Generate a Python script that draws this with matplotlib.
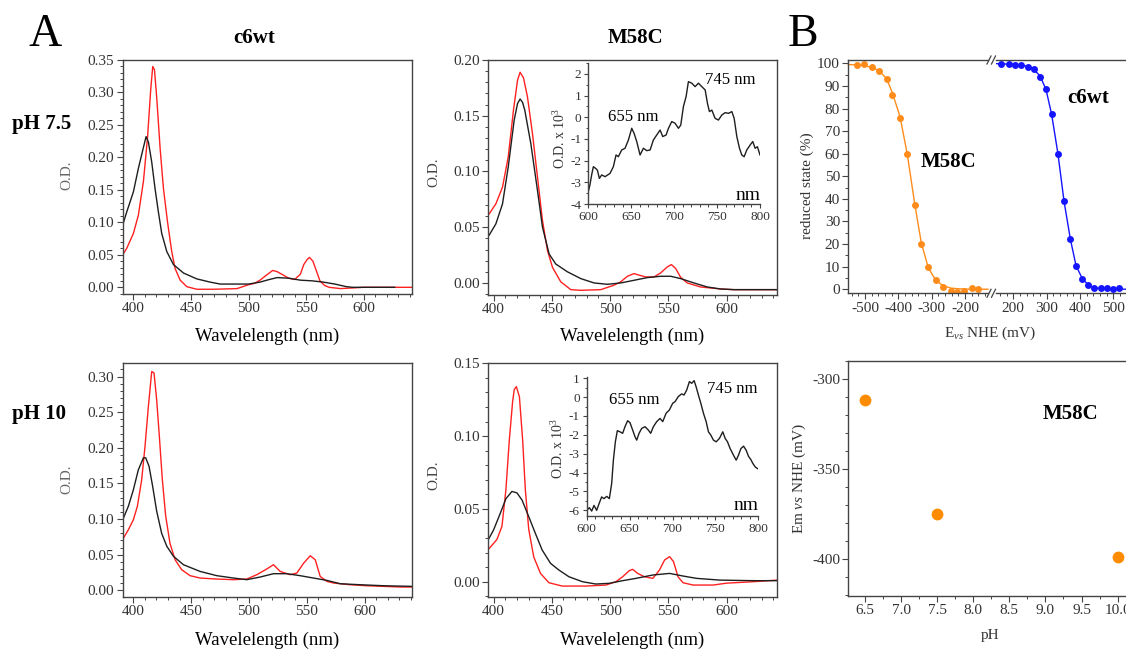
import matplotlib.pyplot as plt
from matplotlib.ticker import MultipleLocator
from matplotlib.lines import Line2D

plt.rcParams['font.family'] = ['Liberation Serif', 'DejaVu Serif']
plt.rcParams['mathtext.fontset'] = 'custom'
plt.rcParams['mathtext.rm'] = 'Liberation Serif'
plt.rcParams['mathtext.it'] = 'Liberation Serif:italic'
plt.rcParams['mathtext.bf'] = 'Liberation Serif:bold'
plt.rcParams['axes.unicode_minus'] = False

# ---- A: c6wt, pH 7.5 (reduced = red, oxidised = black)
wl_wt75_red = [390.7, 394.2, 400, 404.3, 408.7, 412.2, 415.1, 416.8, 418.3, 420.3, 423.2, 426.1,
               429.6, 433.3, 436.2, 440.6, 446.4, 455, 470, 490, 500, 505, 510, 515, 521, 525,
               530, 535, 540, 545, 548, 551, 553, 556, 559, 562, 566, 570, 580, 590, 600, 642]
od_wt75_red = [0.050, 0.060, 0.083, 0.111, 0.163, 0.229, 0.306, 0.340, 0.335, 0.291, 0.214, 0.152,
               0.101, 0.055, 0.029, 0.011, 0.001, -0.003, -0.003, -0.002, 0.004, 0.006, 0.011, 0.018,
               0.026, 0.024, 0.019, 0.014, 0.012, 0.020, 0.035, 0.043, 0.046, 0.040, 0.025, 0.010,
               0.003, 0.0, -0.002, -0.001, 0.0, 0.0]
wl_wt75_ox = [390.7, 394.2, 400, 404.3, 408.1, 411, 413, 415.9, 418.8, 421.7, 424.6, 429, 434.8,
              443.5, 455, 466.7, 475.4, 500, 510, 518, 525, 535, 545, 555, 565, 575, 585, 590, 627]
od_wt75_ox = [0.096, 0.116, 0.147, 0.183, 0.211, 0.232, 0.224, 0.193, 0.152, 0.116, 0.083, 0.055,
              0.035, 0.022, 0.013, 0.008, 0.005, 0.005, 0.008, 0.012, 0.015, 0.014, 0.011, 0.010,
              0.008, 0.005, 0.001, 0.0, 0.0]

# ---- A: M58C, pH 7.5
wl_m75_red = [396.3, 402, 407.7, 412.6, 417.1, 420.6, 422.8, 425.7, 429.1, 433.4, 437.7, 442, 446.3,
              450.6, 457.7, 466.3, 474.9, 492, 503.4, 509.1, 514.9, 520.6, 524.9, 530.6, 537.7,
              543.4, 549.1, 552.6, 556.3, 560.6, 566.3, 577.7, 594.9, 606.3, 643]
od_m75_red = [0.062, 0.071, 0.086, 0.113, 0.155, 0.182, 0.189, 0.184, 0.167, 0.134, 0.095, 0.056,
              0.029, 0.014, 0.001, -0.006, -0.0066, -0.006, -0.002, 0.001, 0.006, 0.0084, 0.007,
              0.0054, 0.0054, 0.009, 0.0144, 0.0165, 0.013, 0.005, 0.0, -0.0036, -0.0054, -0.006,
              -0.006]
wl_m75_ox = [396.3, 402, 407.7, 412.6, 417.7, 420.6, 422.8, 424.9, 426.8, 432, 437.7, 442, 447.7,
             453.4, 463.4, 474.9, 486.3, 497.7, 509.1, 520.6, 532, 543.4, 552, 560.6, 572, 583.4,
             594.9, 606.3, 643]
od_m75_ox = [0.043, 0.053, 0.071, 0.104, 0.146, 0.161, 0.165, 0.162, 0.155, 0.125, 0.083, 0.050,
             0.026, 0.017, 0.010, 0.0039, 0.0, -0.0012, 0.0, 0.0024, 0.0048, 0.006, 0.006, 0.0039,
             0.0, -0.0036, -0.0054, -0.006, -0.006]

# inset, M58C pH 7.5 (O.D. x 10^3)
wl_ins75 = [600, 601.9, 603.9, 605.9, 608.6, 610.6, 612.9, 615.6, 619.5, 625.3, 629.2, 632.3, 635,
            638.9, 642.8, 646.7, 650.6, 653.3, 656.4, 660.3, 664.2, 668.1, 672, 675.8, 679.7, 683.6,
            686.7, 690.6, 693.4, 697.2, 701.1, 705, 707.7, 710.8, 713.9, 716.6, 720.5, 724.4, 728.3,
            732.2, 736.1, 738.8, 741.1, 743.9, 747.7, 751.6, 755.5, 759.4, 763.3, 767.2, 769.9, 773,
            776.1, 778.8, 781.5, 784.6, 788.5, 791.6, 794.3, 797, 800]
od_ins75 = [-3.43, -3.12, -2.66, -2.28, -2.36, -2.44, -2.82, -2.66, -2.74, -2.59, -2.28, -1.74, -1.82,
            -1.51, -1.43, -1.05, -0.51, -0.74, -1.12, -1.74, -1.43, -1.54, -1.51, -1.05, -0.82, -0.59,
            -0.89, -0.82, -0.51, -0.20, -0.28, -0.51, -0.36, 0.49, 0.95, 1.64, 1.57, 1.41, 1.57, 1.41,
            1.26, 0.64, 0.26, 0.33, -0.05, -0.13, 0.10, 0.21, 0.18, 0.26, -0.05, -0.89, -1.43, -1.74,
            -1.82, -1.51, -1.28, -1.12, -1.43, -1.36, -1.74]

# ---- A: c6wt, pH 10
wl_wt10_red = [391.3, 395.7, 400, 403.5, 407.2, 410.1, 413, 415.9, 417.9, 420.2, 422.5, 425.1, 428,
               431.7, 436.1, 441.8, 449.1, 457.7, 472.2, 486.6, 498.1, 506.8, 515.4, 521.2, 527,
               535.6, 541.4, 547.2, 553, 557.3, 561.6, 567.4, 573.2, 587.6, 602, 616.5, 630.9, 641]
od_wt10_red = [0.073, 0.085, 0.099, 0.118, 0.155, 0.202, 0.258, 0.307, 0.305, 0.267, 0.216, 0.155,
               0.104, 0.066, 0.043, 0.029, 0.0206, 0.0173, 0.0159, 0.015, 0.0159, 0.022, 0.030, 0.036,
               0.0266, 0.022, 0.0243, 0.038, 0.0486, 0.043, 0.0196, 0.0126, 0.0103, 0.0079, 0.0065,
               0.0056, 0.0047, 0.0047]
wl_wt10_ox = [391.3, 395.7, 400, 404.3, 408.7, 410.7, 413.6, 416.7, 420.2, 424.5, 428.9, 434.6, 443.3,
              457.7, 472.2, 486.6, 498.1, 509.7, 521.2, 532.8, 544.3, 555.8, 567.4, 578.9, 596.2,
              616.5, 641]
od_wt10_ox = [0.101, 0.118, 0.141, 0.169, 0.186, 0.186, 0.174, 0.146, 0.111, 0.080, 0.062, 0.048,
              0.036, 0.0266, 0.0206, 0.0173, 0.015, 0.0187, 0.0234, 0.0234, 0.0206, 0.0173, 0.014,
              0.0093, 0.0079, 0.0065, 0.0056]

# ---- A: M58C, pH 10
wl_m10_red = [394.2, 398.6, 402.9, 407.2, 410.6, 413.5, 416.4, 417.8, 419.6, 422.2, 425, 427.3, 430.2,
              434.5, 440.3, 447.5, 459, 479.1, 496.4, 505, 510.8, 516.5, 519.4, 523.7, 529.5, 536.7,
              542.4, 546.8, 551.1, 554.5, 558.3, 562.6, 571.2, 588.5, 600, 623, 643.2]
od_m10_red = [0.021, 0.025, 0.029, 0.038, 0.063, 0.097, 0.124, 0.132, 0.134, 0.127, 0.097, 0.063,
              0.036, 0.017, 0.0057, -0.0007, -0.003, -0.003, -0.0023, 0.0, 0.0034, 0.0076, 0.0085,
              0.0057, 0.0034, 0.0023, 0.008, 0.0149, 0.0172, 0.0137, 0.0034, -0.0007, -0.0023,
              -0.0023, -0.001, 0.0, 0.0011]
wl_m10_ox = [394.2, 400, 405.8, 410.6, 415.8, 420.1, 424.5, 430.2, 436, 441.7, 448.9, 456.1, 464.7,
             476.3, 487.8, 499.3, 510.8, 522.3, 536.7, 551.1, 562.6, 574.1, 594.2, 623, 643.2]
od_m10_ox = [0.027, 0.0355, 0.047, 0.057, 0.062, 0.061, 0.056, 0.0447, 0.033, 0.0218, 0.0126, 0.008,
             0.0034, 0.0, -0.0016, -0.0011, 0.0007, 0.0023, 0.0046, 0.0057, 0.0039, 0.0023, 0.0011,
             0.0007, 0.0007]

# inset, M58C pH 10
wl_ins10 = [600, 603.1, 605.8, 608.5, 611.6, 614.7, 617.4, 620.1, 623.3, 626.4, 629.1, 631.1, 633.4,
            635.7, 638.8, 641.9, 644.6, 647.7, 650.5, 653.6, 656.3, 658.3, 661, 664.1, 668, 671.9,
            674.6, 677.7, 681.6, 685.5, 688.6, 692.5, 696.4, 700.2, 703, 706.8, 710.7, 713.5, 716.6,
            719.7, 722.4, 725.2, 727.5, 730.2, 733, 736.1, 739.2, 741.9, 744.6, 747.7, 750.9, 754.7,
            758.6, 761.4, 764.1, 767.2, 771.1, 774.2, 776.9, 779.7, 782.8, 785.9, 788.6, 791.3,
            793.7, 796.4, 799.1]
od_ins10 = [-6.0, -5.86, -6.04, -5.74, -6.0, -5.61, -5.29, -5.38, -5.26, -5.38, -4.58, -3.34, -2.37,
            -1.78, -1.84, -1.92, -1.57, -1.25, -1.36, -1.75, -2.10, -2.28, -1.92, -1.66, -1.57, -1.75,
            -1.92, -1.57, -1.30, -1.13, -1.30, -0.86, -0.68, -0.33, -0.24, 0.03, 0.17, 0.11, 0.38,
            0.82, 0.73, 0.87, 0.55, 0.11, -0.33, -0.86, -1.30, -1.84, -2.01, -2.28, -2.37, -2.19,
            -1.84, -2.19, -2.37, -2.73, -3.08, -3.34, -3.08, -2.73, -2.60, -2.82, -3.14, -3.31,
            -3.52, -3.70, -3.79]

# ---- B: redox titrations
e_m58c = [-523, -502, -478, -457, -435, -418, -395, -373, -351, -331, -310, -288, -265, -242, -225,
          -203, -180, -162]
red_m58c = [99.2, 99.7, 98.2, 96.7, 93.0, 86.0, 75.9, 59.7, 37.3, 20.0, 9.7, 4.3, 0.9, -1.0, -1.3,
            -0.6, 0.4, 0.1]
e_m58c_fit = [-550, -523, -502, -478, -457, -435, -418, -395, -373, -351, -331, -310, -288, -265,
              -242, -220, -180, -131]
red_m58c_fit = [99.5, 99.3, 99.0, 98.2, 96.7, 93.2, 87.0, 76.5, 59.7, 38.0, 20.5, 9.5, 4.0, 1.5,
                0.5, 0.2, 0.0, 0.0]

e_wt = [164, 186, 206, 224, 243, 261, 279, 298, 315, 334, 352, 371, 388, 407, 425, 443, 462, 481,
        498, 516]
red_wt = [99.7, 99.7, 99.2, 99.1, 98.5, 97.5, 94.1, 88.5, 77.4, 59.9, 39.1, 22.3, 10.5, 4.7, 1.9,
          0.7, 0.4, 0.4, 0.1, 0.7]
e_wt_fit = [147, 200, 240, 260, 280, 298, 315, 334, 352, 371, 388, 407, 425, 443, 462, 500, 550]
red_wt_fit = [99.9, 99.6, 98.8, 97.5, 94.5, 88.5, 77.4, 59.9, 39.1, 22.3, 10.5, 4.7, 1.9, 0.7, 0.3,
              0.05, 0.0]

# ---- B: Em vs pH
ph_vals = [6.5, 7.5, 10.0]
em_vals = [-312, -375, -399]

W, H = 1126, 650
RED = '#ff2020'
BLACK = '#1e1e1e'
ORANGE = '#ff8c1a'
BLUE = '#1414ff'
SPINE = '#444444'
TICKC = '#333333'

fig = plt.figure(figsize=(W / 100, H / 100), dpi=100)


def px_axes(x0, y0, x1, y1):
    return fig.add_axes([x0 / W, 1 - y1 / H, (x1 - x0) / W, (y1 - y0) / H])


def px_text(x, y, s, **kw):
    kw.setdefault('ha', 'center')
    kw.setdefault('va', 'center')
    return fig.text(x / W, 1 - y / H, s, **kw)


def base_style(ax, labelsize=11):
    for sp in ax.spines.values():
        sp.set_color(SPINE)
        sp.set_linewidth(1.0)
    ax.tick_params(which='major', direction='out', length=4, width=0.8, color=SPINE,
                   labelsize=labelsize, labelcolor=TICKC, pad=2)
    ax.tick_params(which='minor', direction='out', length=2.2, width=0.7, color=SPINE)


def spectrum_axes(box, xlim, ylim):
    ax = px_axes(*box)
    base_style(ax)
    ax.set_xlim(*xlim)
    ax.set_ylim(*ylim)
    ax.xaxis.set_major_locator(MultipleLocator(50))
    ax.xaxis.set_minor_locator(MultipleLocator(10))
    ax.yaxis.set_major_locator(MultipleLocator(0.05))
    ax.yaxis.set_minor_locator(MultipleLocator(0.01))
    ax.yaxis.set_major_formatter(plt.FormatStrFormatter('%.2f'))
    return ax


def inset_axes(box, ylim, ymaj):
    ax = px_axes(*box)
    base_style(ax, labelsize=9.5)
    ax.spines['top'].set_visible(False)
    ax.spines['right'].set_visible(False)
    ax.patch.set_alpha(0)
    ax.set_xlim(600, 800)
    ax.set_ylim(*ylim)
    ax.xaxis.set_major_locator(MultipleLocator(50))
    ax.xaxis.set_minor_locator(MultipleLocator(10))
    ax.yaxis.set_major_locator(MultipleLocator(ymaj))
    ax.yaxis.set_minor_locator(MultipleLocator(0.5))
    ax.tick_params(which='major', length=3)
    ax.tick_params(which='minor', length=1.8)
    return ax


# Panel A, top-left: c6wt pH 7.5
ax1 = spectrum_axes((122.7, 60, 412, 294), (390.7, 642), (-0.0103, 0.35))
ax1.plot(wl_wt75_red, od_wt75_red, color=RED, lw=1.0)
ax1.plot(wl_wt75_ox, od_wt75_ox, color=BLACK, lw=1.0)

# Panel A, top-middle: M58C pH 7.5
ax2 = spectrum_axes((488.3, 60, 776.7, 295), (395.5, 643), (-0.0108, 0.20))
ax2.plot(wl_m75_red, od_m75_red, color=RED, lw=1.0)
ax2.plot(wl_m75_ox, od_m75_ox, color=BLACK, lw=1.0)

ins2 = inset_axes((588.3, 63, 760, 204), (-4, 2.5), 1)
ins2.plot(wl_ins75, od_ins75, color=BLACK, lw=1.0)

# Panel A, bottom-left: c6wt pH 10
ax3 = spectrum_axes((122.7, 363, 412, 597), (390.8, 641), (-0.0093, 0.319))
ax3.plot(wl_wt10_red, od_wt10_red, color=RED, lw=1.0)
ax3.plot(wl_wt10_ox, od_wt10_ox, color=BLACK, lw=1.0)

# Panel A, bottom-middle: M58C pH 10
ax4 = spectrum_axes((488.3, 363.3, 776.7, 596.7), (395.5, 643), (-0.0103, 0.15))
ax4.plot(wl_m10_red, od_m10_red, color=RED, lw=1.0)
ax4.plot(wl_m10_ox, od_m10_ox, color=BLACK, lw=1.0)

ins4 = inset_axes((586.7, 376.7, 758.3, 516), (-6.3, 1.08), 1)
ins4.plot(wl_ins10, od_ins10, color=BLACK, lw=1.0)

# Panel B, top: broken x axis
bl = px_axes(848.3, 60, 988, 293.3)
br = px_axes(995.5, 60, 1130, 293.3)
for ax in (bl, br):
    base_style(ax)
    ax.set_ylim(-1.8, 101.5)
    ax.xaxis.set_major_locator(MultipleLocator(100))
    ax.xaxis.set_minor_locator(MultipleLocator(20))
bl.spines['right'].set_visible(False)
br.spines['left'].set_visible(False)
br.set_yticks([])
bl.set_xlim(-550, -131)
br.set_xlim(146.6, 550)
bl.yaxis.set_major_locator(MultipleLocator(10))
bl.yaxis.set_minor_locator(MultipleLocator(5))
bl.plot(e_m58c_fit, red_m58c_fit, color=ORANGE, lw=1.0, clip_on=False)
bl.plot(e_m58c, red_m58c, 'o', color=ORANGE, ms=5, mec='none')
br.plot(e_wt_fit, red_wt_fit, color=BLUE, lw=1.0)
br.plot(e_wt, red_wt, 'o', color=BLUE, ms=5, mec='none')

# break marks
for yb in (60, 293.3):
    for xb in (989, 993.5):
        fig.add_artist(Line2D([(xb - 2) / W, (xb + 2) / W], [1 - (yb + 4) / H, 1 - (yb - 4) / H],
                              transform=fig.transFigure, color=SPINE, lw=0.9))

# Panel B, bottom: Em vs pH
ax6 = px_axes(848.3, 360.7, 1140, 596)
base_style(ax6)
ax6.set_xlim(6.27, 10.31)
ax6.set_ylim(-420.5, -290)
ax6.xaxis.set_major_locator(MultipleLocator(0.5))
ax6.xaxis.set_minor_locator(MultipleLocator(0.25))
ax6.yaxis.set_major_locator(MultipleLocator(50))
ax6.yaxis.set_minor_locator(MultipleLocator(10))
ax6.xaxis.set_major_formatter(plt.FormatStrFormatter('%.1f'))
ax6.plot(ph_vals, em_vals, 'o', color='#ff8c00', ms=8.5, mec='none', clip_on=False)

# ---- texts
px_text(45, 35, 'A', fontsize=33)
px_text(803, 35, 'B', fontsize=33)
px_text(254, 38, 'c6wt', fontsize=15, fontweight='bold')
px_text(635, 38, 'M58C', fontsize=15, fontweight='bold')
px_text(42, 124, 'pH 7.5', fontsize=15, fontweight='bold')
px_text(39, 414, 'pH 10', fontsize=15, fontweight='bold')

for xc in (267, 632.5):
    px_text(xc, 336, 'Wavelelength (nm)', fontsize=13.5)
    px_text(xc, 640, 'Wavelelength (nm)', fontsize=13.5)

px_text(67, 175, 'O.D.', fontsize=11, rotation=90, color='#666666')
px_text(67, 479, 'O.D.', fontsize=11, rotation=90, color='#666666')
px_text(434, 172, 'O.D.', fontsize=11, rotation=90, color='#444444')
px_text(434, 475, 'O.D.', fontsize=11, rotation=90, color='#444444')

px_text(560, 138, r'O.D. x 10$^{3}$', fontsize=10, rotation=90, color='#333333')
px_text(558, 448, r'O.D. x 10$^{3}$', fontsize=10, rotation=90, color='#333333')
px_text(633, 117, '655 nm', fontsize=12)
px_text(730, 80, '745 nm', fontsize=12)
px_text(748, 195, 'nm', fontsize=14)
px_text(634, 400, '655 nm', fontsize=12)
px_text(732, 389, '745 nm', fontsize=12)
px_text(746, 506, 'nm', fontsize=14)

px_text(807, 186, 'reduced state (%)', fontsize=11, rotation=90, color='#333333')
px_text(990, 333, r'E$_{\mathit{vs}}$ NHE (mV)', fontsize=11, color='#333333')
px_text(948, 162, 'M58C', fontsize=15, fontweight='bold')
px_text(1088, 98, 'c6wt', fontsize=15, fontweight='bold')

px_text(799, 478, r'Em $\mathit{vs}$ NHE (mV)', fontsize=11, rotation=90, color='#333333')
px_text(990, 635, 'pH', fontsize=11, color='#333333')
px_text(1070, 414, 'M58C', fontsize=15, fontweight='bold')

fig.savefig('out.png', dpi=100)
